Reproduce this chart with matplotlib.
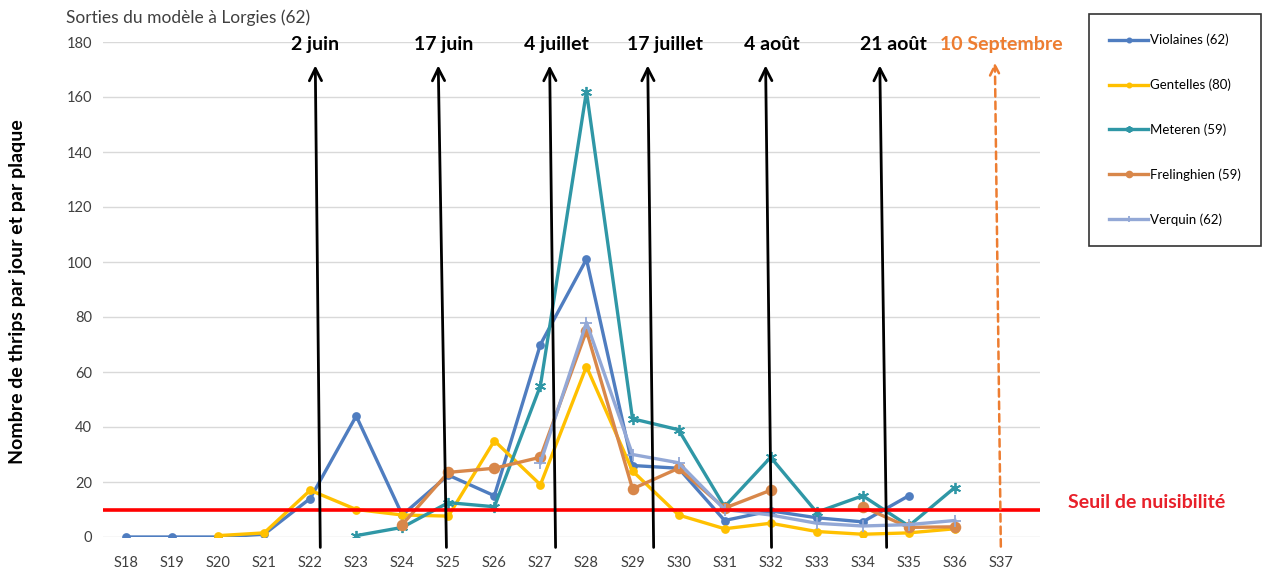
import numpy as np
import matplotlib
matplotlib.use("Agg")
import matplotlib.pyplot as plt

plt.rcParams['font.family'] = ['Lato', 'DejaVu Sans']

nan = np.nan

# weeks S18 .. S37
weeks = ["S%d" % w for w in range(18, 38)]

violaines = [0, 0, 0, 1, 14, 44, 8, 22.5, 15, 70, 101, 26, 25, 6, 9.5, 7, 5.5, 15, nan, nan]
gentelles = [nan, nan, 0.5, 1.5, 17, 10, 8, 7.6, 35, 19, 62, 24, 8, 3, 5, 2, 1, 1.5, 3, nan]
meteren = [nan, nan, nan, nan, nan, 0.5, 3.5, 12.5, 11, 55, 162, 43, 39, 11, 29, 9, 15, 4, 18, nan]
frelinghien = [nan, nan, nan, nan, nan, nan, 4.5, 23.5, 25, 29, 75, 17.5, 25, 10.5, 17, nan, 11, 3.5, 3.7, nan]
verquin = [nan, nan, nan, nan, nan, nan, nan, nan, nan, 27, 78, 30, 27, 10, 8, 5, 4, 4.5, 6, nan]

series_names = ["Violaines (62)", "Gentelles (80)", "Meteren (59)", "Frelinghien (59)", "Verquin (62)"]
series_values = [violaines, gentelles, meteren, frelinghien, verquin]

seuil = 10

events = ["2 juin", "17 juin", "4 juillet", "17 juillet", "4 août", "21 août"]
event_last = "10 Septembre"

# ---- styles
colors = ["#4F7DC0", "#FFC000", "#2F97A6", "#D8874A", "#93A8D6"]
markers = ["o", "o", (6, 2, 0), "o", "+"]
msizes = [5, 5, 8, 7, 8]

fig = plt.figure(figsize=(12.77, 5.70), dpi=100)
ax = fig.add_axes([103 / 1277, 1 - 537 / 570, (1040 - 103) / 1277, (537 - 42) / 570])

x = np.arange(len(weeks))
for vals, name, c, m, ms in zip(series_values, series_names, colors, markers, msizes):
    ax.plot(x, vals, color=c, lw=2.4, marker=m, ms=ms, mew=1.3, label=name, zorder=3)

ax.axhline(seuil, color="#FF0000", lw=2.6, zorder=4)

ax.set_xlim(-0.5, 19.85)
ax.set_ylim(0, 180)
ax.set_yticks(range(0, 181, 20))
ax.set_xticks(x)
ax.set_xticklabels(weeks)
ax.grid(axis="y", color="#D9D9D9", lw=1)
ax.set_axisbelow(True)
for s in ax.spines.values():
    s.set_visible(False)
ax.tick_params(length=0, labelsize=10.5, colors="#404040", pad=8)
ax.tick_params(axis="x", pad=14)

fig.text(18 / 1277, 1 - 292 / 570, "Nombre de thrips par jour et par plaque", fontsize=14,
         fontweight="bold", rotation=90, ha="center", va="center")
fig.text(66 / 1277, 1 - 18 / 570, "Sorties du modèle à Lorgies (62)", fontsize=12.5,
         color="#404040", va="center", ha="left")

# ---- arrows for the model outputs (bottom x, top x, label x)
arrow_pos = [(4.22, 4.11, 4.11), (6.96, 6.78, 6.89), (9.33, 9.2, 9.35),
             (11.46, 11.33, 11.7), (14.02, 13.89, 14.02), (16.52, 16.37, 16.67)]
for lab, (xb, xt, xl) in zip(events, arrow_pos):
    ax.annotate("", xy=(xt, 172.5), xytext=(xb, -4.8),
                arrowprops=dict(arrowstyle="->", color="black", lw=2, mutation_scale=22),
                annotation_clip=False, zorder=6)
    ax.text(xl, 179, lab, ha="center", va="center", fontsize=14, fontweight="bold",
            clip_on=False, zorder=6)

ax.annotate("", xy=(18.87, 173.5), xytext=(19.0, -4.5),
            arrowprops=dict(arrowstyle="->", color="#ED7D31", lw=1.8, ls=(0, (3, 2)),
                            mutation_scale=18),
            annotation_clip=False, zorder=6)
ax.text(19.0, 179, event_last, ha="center", va="center", fontsize=14, fontweight="bold",
        color="#ED7D31", clip_on=False, zorder=6)

fig.text(1068 / 1277, 1 - 503 / 570, "Seuil de nuisibilité", fontsize=14, fontweight="bold",
         color="#E8202A", va="center", ha="left")

leg = fig.legend(loc="upper left", bbox_to_anchor=(1089 / 1277, 1 - 14 / 570),
                 fontsize=9.5, frameon=True, fancybox=False, edgecolor="black",
                 labelspacing=2.45, borderpad=1.5, handlelength=3.0, handletextpad=0.15,
                 markerscale=0.6, borderaxespad=0)
leg.get_frame().set_linewidth(1.2)

fig.savefig("out.png", dpi=100)
